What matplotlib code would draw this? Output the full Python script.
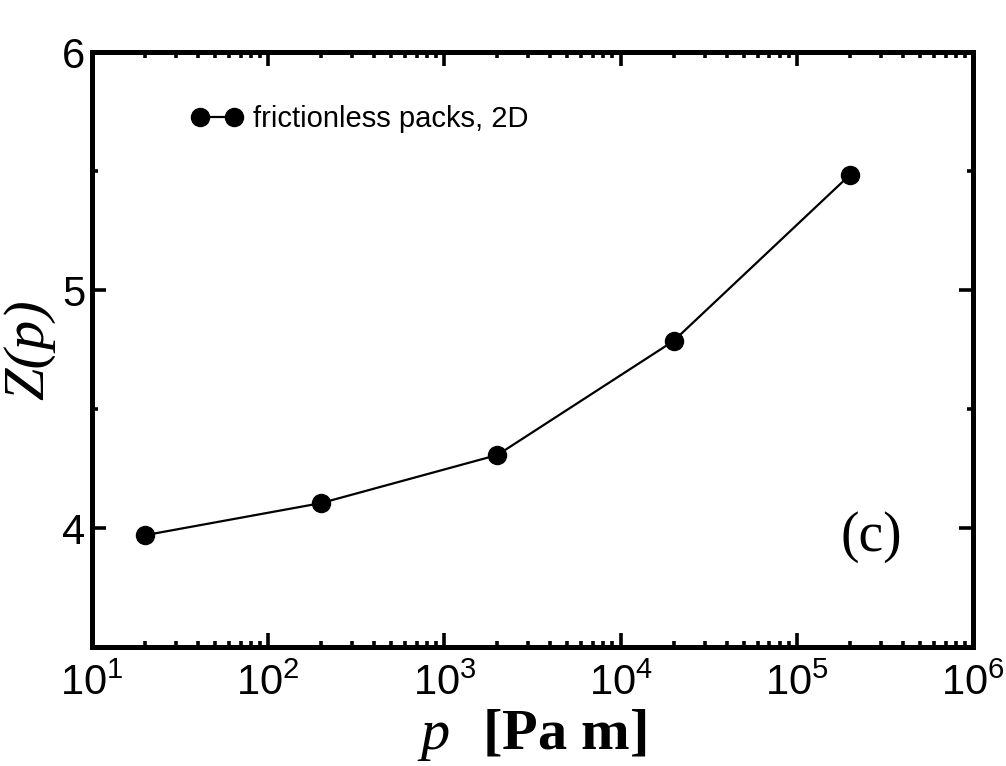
import matplotlib
matplotlib.use("Agg")
import matplotlib.pyplot as plt
from matplotlib.ticker import LogLocator, NullFormatter, MultipleLocator

# data
pressure = [2e1, 2e2, 2e3, 2e4, 2e5]
z_values = [3.97, 4.105, 4.307, 4.786, 5.483]
series_label = "frictionless packs, 2D"
x_label = r"$p$  $\mathbf{[Pa\ m]}$"
y_label = "Z(p)"
panel_tag = "(c)"

plt.rcParams["font.family"] = ["Liberation Sans", "DejaVu Sans"]
plt.rcParams["mathtext.fontset"] = "custom"
plt.rcParams["mathtext.rm"] = "Liberation Sans"
plt.rcParams["mathtext.it"] = "Liberation Serif:italic"
plt.rcParams["mathtext.bf"] = "Liberation Serif:bold"

fig = plt.figure(figsize=(10.06, 7.66), dpi=100)
ax = fig.add_axes([0.0915, 0.1553, 0.8755, 0.7767])

ax.plot(pressure, z_values, color="black", lw=1.6, marker="o", ms=13,
        label=series_label)

ax.set_xscale("log")
ax.set_xlim(10, 1e6)
ax.set_ylim(3.5, 6)
ax.xaxis.set_major_locator(LogLocator(base=10, numticks=10))
ax.xaxis.set_minor_locator(LogLocator(base=10, subs=range(2, 10), numticks=20))
ax.xaxis.set_minor_formatter(NullFormatter())
ax.yaxis.set_major_locator(MultipleLocator(1))
ax.yaxis.set_minor_locator(MultipleLocator(0.5))

for s in ax.spines.values():
    s.set_linewidth(3.6)
ax.tick_params(which="both", direction="in", top=True, right=True)
ax.tick_params(which="major", length=10, width=2.6, labelsize=30)
ax.tick_params(which="minor", length=4.5, width=2.6)
ax.tick_params(axis="x", which="major", pad=12)
ax.tick_params(axis="y", which="major", pad=5)

ax.set_xlabel(x_label, fontsize=42)
ax.xaxis.set_label_coords(0.4995, -0.1)
ax.set_ylabel(y_label, fontsize=42, family="Liberation Serif", style="italic")
ax.yaxis.set_label_coords(-0.042, 0.5)

ax.text(0.885, 0.185, panel_tag, transform=ax.transAxes, fontsize=40,
        family="Liberation Serif", ha="center", va="center")

ax.legend(loc="center left", bbox_to_anchor=(0.113, 0.887), frameon=False,
          fontsize=21, handlelength=1.75, handletextpad=0.35, borderpad=0,
          borderaxespad=0, numpoints=2)

fig.savefig("out.png", dpi=100)
